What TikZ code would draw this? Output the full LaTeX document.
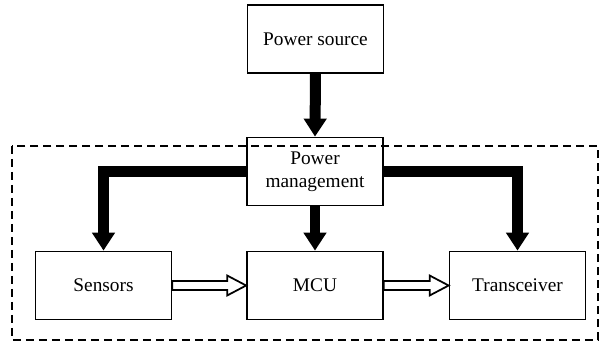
\documentclass[tikz,border=0pt]{standalone}
\usepackage{fontspec}
\setmainfont{Liberation Serif}
\usetikzlibrary{arrows.meta,calc}
\begin{document}
\begin{tikzpicture}[x=0.02cm, y=-0.02cm,
		block/.style={draw, line width=1pt, minimum width=2.72cm, minimum height=1.36cm, align=center, font=\fontsize{11}{13}\selectfont},
		power/.style={line width=0.22cm, -{Triangle[width=0.44cm, length=0.36cm]}},
		hollow/.style={line width=1pt, line join=miter, to path={
			($(\tikztostart)+(0,-4.5)$) -- ($(\tikztotarget)+(-19,-4.5)$) -- ($(\tikztotarget)+(-19,-10)$) -- (\tikztotarget)
			-- ($(\tikztotarget)+(-19,10)$) -- ($(\tikztotarget)+(-19,4.5)$) -- ($(\tikztostart)+(0,4.5)$) -- cycle}}]
		\useasboundingbox (0,0) rectangle (603,345);
		\node[block] (src) at (315.5,39) {Power source};
		\node[block] (pm) at (315,171.5) {Power\\management};
		\node[block] (sen) at (103.5,285.5) {Sensors};
		\node[block] (mcu) at (315,285.5) {MCU};
		\node[block] (trx) at (517.5,285.5) {Transceiver};
		\draw[power] (src.south) -- (pm.north);
		\draw[power] (pm.west) -| (sen.north);
		\draw[power] (pm.south) -- (mcu.north);
		\draw[power] (pm.east) -| (trx.north);
		\draw[hollow] (sen.east) to (mcu.west);
		\draw[hollow] (mcu.east) to (trx.west);
		\draw[line width=0.6pt, dash pattern=on 0.16cm off 0.1cm] (12,146) rectangle (598,340);
	\end{tikzpicture}
\end{document}
